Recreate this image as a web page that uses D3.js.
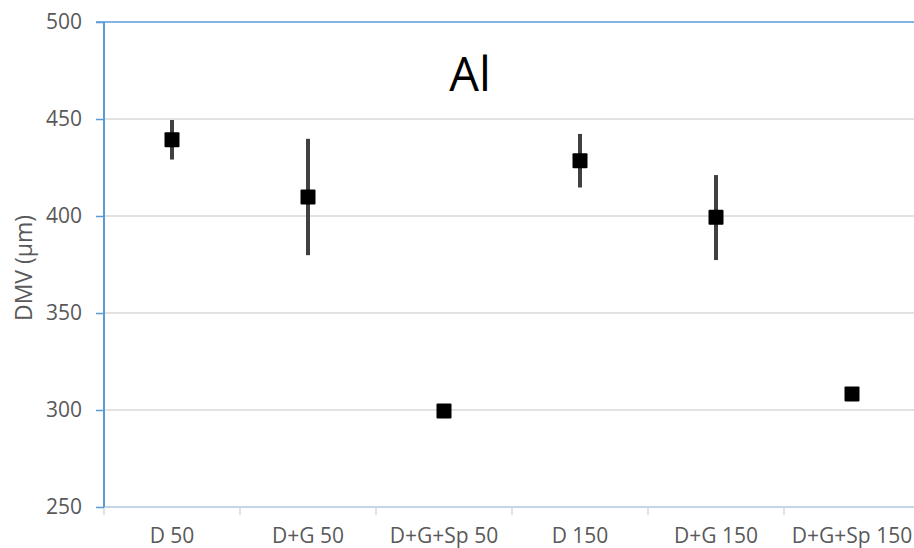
<!DOCTYPE html>
<html>
<head>
<meta charset="utf-8">
<script src="https://cdn.jsdelivr.net/npm/d3@7"></script>
<style>
  html, body { margin: 0; padding: 0; background: #fff; }
  svg { display: block; font-family: "Open Sans", "Noto Sans", sans-serif; }
</style>
</head>
<body>
<svg id="chart" width="914" height="548"></svg>
<script>
// Mean DMV per treatment with error-bar half widths
const categories = ["D 50", "D+G 50", "D+G+Sp 50", "D 150", "D+G 150", "D+G+Sp 150"];
const means = [439.3, 409.8, 299.5, 428.5, 399.3, 308.3];
const errorsUp = [10.2, 30, 0, 13.8, 21.8, 0];
const errorsDown = [10.2, 30, 0, 13.8, 22, 0];
const yTicks = [250, 300, 350, 400, 450, 500];
const title = "Al";
const yLabel = "DMV (μm)";

const svg = d3.select("#chart");
const margin = { left: 104, top: 22, right: -6, bottom: 41 };
const W = 914, H = 548;
const labelSize = 21;

const x = d3.scaleBand()
  .domain(categories)
  .range([margin.left, W - margin.right])
  .paddingInner(0).paddingOuter(0);

const y = d3.scaleLinear()
  .domain([250, 500])
  .range([H - margin.bottom, margin.top]);

// horizontal gridlines
svg.append("g")
  .selectAll("line")
  .data(yTicks.filter(t => t !== 250 && t !== 500))
  .join("line")
  .attr("x1", margin.left).attr("x2", W)
  .attr("y1", d => y(d)).attr("y2", d => y(d))
  .attr("stroke", "#d9d9d9").attr("stroke-width", 1.5);

// top frame line
svg.append("line")
  .attr("x1", margin.left - 8).attr("x2", W)
  .attr("y1", y(500)).attr("y2", y(500))
  .attr("stroke", "#5b9bd5").attr("stroke-width", 1.5);

// x axis baseline, ticks and labels
svg.append("line")
  .attr("x1", margin.left).attr("x2", W)
  .attr("y1", y(250)).attr("y2", y(250))
  .attr("stroke", "#c5d5e8").attr("stroke-width", 2);
svg.append("g")
  .selectAll("line")
  .data(categories)
  .join("line")
  .attr("x1", d => x(d)).attr("x2", d => x(d))
  .attr("y1", y(250) + 1).attr("y2", y(250) + 8)
  .attr("stroke", "#d9d9d9").attr("stroke-width", 1.5);
svg.append("g")
  .selectAll("text")
  .data(categories)
  .join("text")
  .attr("x", d => x(d) + x.bandwidth() / 2)
  .attr("y", y(250) + 36)
  .attr("text-anchor", "middle")
  .attr("font-size", labelSize)
  .attr("fill", "#595959")
  .text(d => d);

// y axis
const yAxis = svg.append("g")
  .attr("transform", `translate(${margin.left},0)`)
  .call(d3.axisLeft(y).tickValues(yTicks).tickSize(8).tickPadding(14));
yAxis.select(".domain").attr("stroke", "#5b9bd5").attr("stroke-width", 2)
  .attr("d", `M0,${y(500)}V${y(250)}`);
yAxis.selectAll(".tick line").attr("stroke", "#5b9bd5").attr("stroke-width", 1.5);
yAxis.selectAll(".tick text")
  .attr("font-size", labelSize)
  .attr("fill", "#595959")
  .attr("font-family", "'Open Sans', 'Noto Sans', sans-serif");

// y label
svg.append("text")
  .attr("transform", `translate(32,268) rotate(-90)`)
  .attr("text-anchor", "middle")
  .attr("font-size", 23)
  .attr("fill", "#595959")
  .text(yLabel);

// title
svg.append("text")
  .attr("x", 470).attr("y", 91)
  .attr("text-anchor", "middle")
  .attr("font-size", 47)
  .attr("fill", "#000")
  .text(title);

const cx = d => x(d) + x.bandwidth() / 2;
const rows = categories.map((c, i) => ({ c, m: means[i], up: errorsUp[i], dn: errorsDown[i] }));

// error bars
svg.append("g")
  .selectAll("line")
  .data(rows.filter(r => r.up > 0 || r.dn > 0))
  .join("line")
  .attr("x1", r => cx(r.c)).attr("x2", r => cx(r.c))
  .attr("y1", r => y(r.m + r.up)).attr("y2", r => y(r.m - r.dn))
  .attr("stroke", "#404040").attr("stroke-width", 4);

// square markers
const s = 15;
svg.append("g")
  .selectAll("rect")
  .data(rows)
  .join("rect")
  .attr("x", r => cx(r.c) - s / 2)
  .attr("y", r => y(r.m) - s / 2)
  .attr("width", s).attr("height", s)
  .attr("rx", 1)
  .attr("fill", "#000");
</script>
</body>
</html>
